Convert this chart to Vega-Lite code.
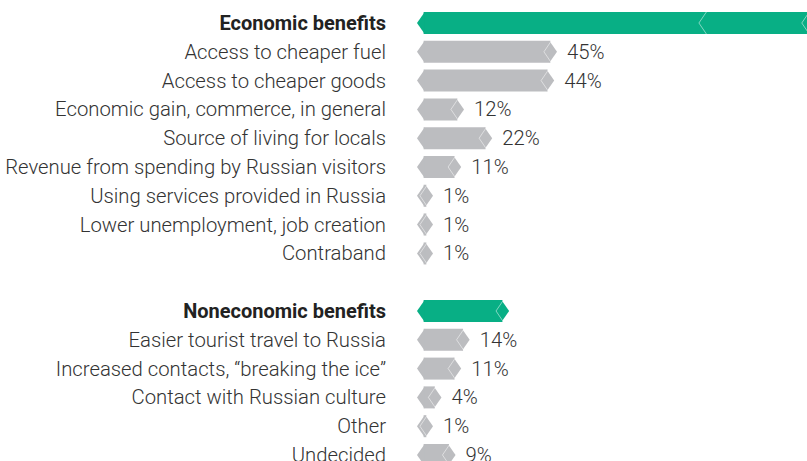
{
  "$schema": "https://vega.github.io/schema/vega-lite/v6.json",
  "width": 807,
  "height": 460.8,
  "autosize": {"type": "none"},
  "padding": {"left": 0, "top": 8.6, "right": 0, "bottom": 0},
  "background": "white",
  "config": {"view": {"stroke": null}},
  "datasets": {
    "rows": [
      {"key": "econ", "label": "Economic benefits", "value": 136.5, "type": "header"},
      {"key": "e1", "label": "Access to cheaper fuel", "value": 45, "type": "item"},
      {"key": "e2", "label": "Access to cheaper goods", "value": 44, "type": "item"},
      {"key": "e3", "label": "Economic gain, commerce, in general", "value": 12, "type": "item"},
      {"key": "e4", "label": "Source of living for locals", "value": 22, "type": "item"},
      {"key": "e5", "label": "Revenue from spending by Russian visitors", "value": 11, "type": "item"},
      {"key": "e6", "label": "Using services provided in Russia", "value": 1, "type": "item"},
      {"key": "e7", "label": "Lower unemployment, job creation", "value": 1, "type": "item"},
      {"key": "e8", "label": "Contraband", "value": 1, "type": "item"},
      {"key": "nonecon", "label": "Noneconomic benefits", "value": 28, "type": "header"},
      {"key": "n1", "label": "Easier tourist travel to Russia", "value": 14, "type": "item"},
      {"key": "n2", "label": "Increased contacts, “breaking the ice”", "value": 11, "type": "item"},
      {"key": "n3", "label": "Contact with Russian culture", "value": 4, "type": "item"},
      {"key": "n4", "label": "Other", "value": 1, "type": "item"},
      {"key": "n5", "label": "Undecided", "value": 9, "type": "item"}
    ],
    "breaks": [
      {"key": "econ", "value": 100}
    ]
  },
  "data": {"name": "rows"},
  "encoding": {
    "y": {
      "field": "key",
      "type": "nominal",
      "scale": {
        "domain": ["econ", "e1", "e2", "e3", "e4", "e5", "e6", "e7", "e8", "gap", "nonecon", "n1", "n2", "n3", "n4", "n5"],
        "paddingInner": 0,
        "paddingOuter": 0
      },
      "axis": null
    }
  },
  "layer": [
    {
      "mark": {"type": "bar", "size": 22, "clip": true},
      "encoding": {
        "x": {"field": "value", "type": "quantitative", "scale": {"domain": [-150.32, 136.05], "nice": false, "zero": false}, "axis": null},
        "x2": {"datum": 0},
        "color": {"field": "type", "type": "nominal", "scale": {"domain": ["header", "item"], "range": ["#08AF85", "#BCBDC0"]}, "legend": null}
      }
    },
    {
      "mark": {"type": "point", "shape": "M 0.1 -1 L -0.6 0 L 0.1 1 Z", "size": 484, "filled": true, "opacity": 1, "strokeWidth": 0},
      "encoding": {
        "x": {"datum": 0, "type": "quantitative"},
        "color": {"field": "type", "type": "nominal", "legend": null}
      }
    },
    {
      "mark": {"type": "point", "shape": "M -0.1 -1 L 0.6 0 L -0.1 1 Z", "size": 484, "filled": true, "opacity": 1, "strokeWidth": 0, "clip": true},
      "encoding": {
        "x": {"field": "value", "type": "quantitative"},
        "color": {"field": "type", "type": "nominal", "legend": null}
      }
    },
    {
      "mark": {"type": "point", "shape": "M 0.09 -1 L -0.59 0 L 0.09 1", "size": 484, "filled": false, "stroke": "#ffffff", "strokeOpacity": 0.5, "strokeWidth": 1, "opacity": 1, "clip": true},
      "encoding": {
        "x": {"field": "value", "type": "quantitative"}
      }
    },
    {
      "data": {"name": "breaks"},
      "mark": {"type": "point", "shape": "M 0.09 -1 L -0.59 0 L 0.09 1", "size": 484, "filled": false, "stroke": "#ffffff", "strokeOpacity": 0.5, "strokeWidth": 1, "opacity": 1, "clip": true},
      "encoding": {
        "x": {"field": "value", "type": "quantitative"}
      }
    },
    {
      "transform": [{"filter": "datum.type === 'item'"}],
      "mark": {"type": "text", "align": "right", "baseline": "middle", "dx": -37.6, "dy": 1, "font": "Roboto", "fontSize": 20.3, "fontWeight": 300, "color": "#333333"},
      "encoding": {
        "x": {"datum": 0, "type": "quantitative"},
        "text": {"field": "label"}
      }
    },
    {
      "transform": [{"filter": "datum.type === 'header'"}],
      "mark": {"type": "text", "align": "right", "baseline": "middle", "dx": -37.6, "dy": 1, "font": "Roboto", "fontSize": 20, "fontWeight": "bold", "color": "#222222"},
      "encoding": {
        "x": {"datum": 0, "type": "quantitative"},
        "text": {"field": "label"}
      }
    },
    {
      "transform": [{"filter": "datum.type === 'item'"}, {"calculate": "datum.value + '%'", "as": "pct"}],
      "mark": {"type": "text", "align": "left", "baseline": "middle", "dx": 16.6, "dy": 1, "font": "Roboto", "fontSize": 20.3, "fontWeight": 300, "color": "#333333"},
      "encoding": {
        "x": {"field": "value", "type": "quantitative"},
        "text": {"field": "pct"}
      }
    }
  ]
}
